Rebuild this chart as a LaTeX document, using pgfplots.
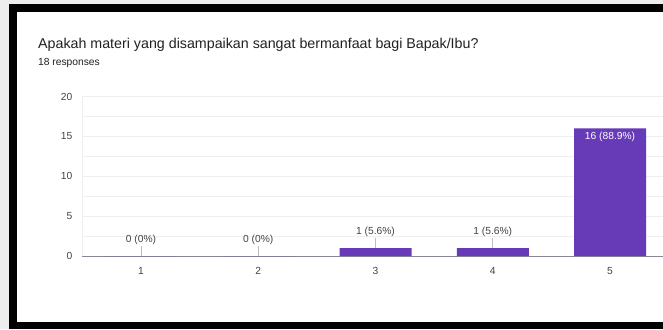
\documentclass[border=0pt]{standalone}
\usepackage{pgfplots}
\pgfplotsset{compat=1.18}
\usepackage{fontspec}
\setmainfont{Liberation Sans}
\definecolor{barc}{HTML}{673AB7}
\definecolor{gridc}{HTML}{EFEFEF}
\definecolor{leadc}{HTML}{BDBDBD}
\definecolor{labc}{HTML}{444444}
\definecolor{ttlc}{HTML}{202124}
\definecolor{basec}{HTML}{8A8696}
\newcommand{\lbl}[1]{\setbox0\hbox{#1}\vbox{\copy0\kern0.5bp\hbox to \wd0{\hss\textcolor{leadc}{\rule{0.9bp}{10bp}}\hss}}}
\begin{document}
\begin{tikzpicture}[x=1bp,y=1bp]
\useasboundingbox (0,0) rectangle (663,329);
\fill[black!7] (0,0) rectangle (663,329);
\fill[black] (9,0) rectangle (663,325);
\fill[white] (17,7) rectangle (663,316.5);
\begin{axis}[
  at={(82.4bp,73bp)}, anchor=south west,
  scale only axis, width=580.6bp, height=159.5bp,
  xmin=0.5, xmax=5.452, ymin=0, ymax=20,
  xtick={1,2,3,4,5}, ytick={0,5,10,15,20}, minor ytick={2.5,7.5,12.5,17.5},
  ymajorgrids, yminorgrids,
  major grid style={draw=gridc, line width=0.8bp},
  minor grid style={draw=gridc, line width=0.8bp},
  axis x line*=bottom, axis y line*=left,
  x axis line style={draw=basec, line width=1bp, -},
  y axis line style={draw=gridc, -},
  major tick length=0pt, minor tick length=0pt,
  tick style={draw=none},
  ticklabel style={font=\fontsize{10.3}{12}\selectfont, text=labc},
  /pgf/number format/assume math mode=true,
  yticklabel style={anchor=east, inner sep=0pt, xshift=-9.8bp},
  xticklabel style={anchor=north, inner sep=0pt, yshift=-11bp},
  clip=false,
]
\addplot[ybar, bar width=72bp, fill=barc, draw=none] coordinates {(1,0) (2,0) (3,1) (4,1) (5,16)};
\addplot[draw=none, mark=none, point meta=explicit symbolic,
  nodes near coords={\lbl{\pgfplotspointmeta}},
  every node near coord/.append style={anchor=south, inner sep=0pt, font=\fontsize{10.3}{12}\selectfont, text=labc}]
  coordinates {(1,0)[0 (0\%)] (2,0)[0 (0\%)] (3,1)[1 (5.6\%)] (4,1)[1 (5.6\%)]};
\addplot[draw=none, mark=none, point meta=explicit symbolic,
  nodes near coords,
  every node near coord/.append style={anchor=north, inner sep=0pt, yshift=-3.2bp, font=\fontsize{10.3}{12}\selectfont, text=white}]
  coordinates {(5,16)[16 (88.9\%)]};
\end{axis}
\node[anchor=base west, inner sep=0pt, text=ttlc, font=\fontsize{14.3}{16}\selectfont] at (38,280.7) {Apakah materi yang disampaikan sangat bermanfaat bagi Bapak/Ibu?};
\node[anchor=base west, inner sep=0pt, text=ttlc, font=\fontsize{10.3}{12}\selectfont] at (38,264) {18 responses};
\end{tikzpicture}
\end{document}
